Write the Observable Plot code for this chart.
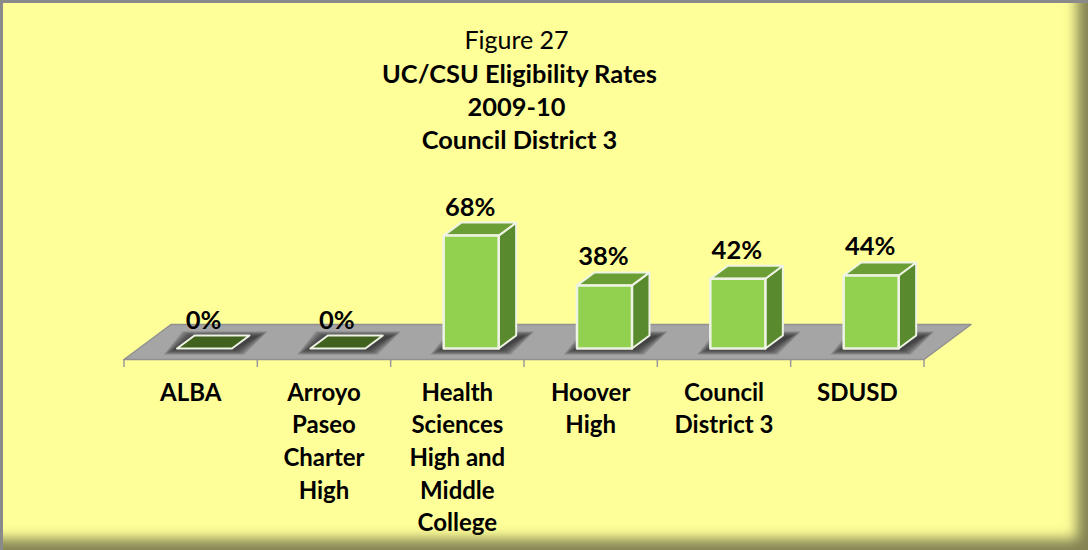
<!DOCTYPE html>
<html>
<head>
<meta charset="utf-8">
<script src="https://cdn.jsdelivr.net/npm/d3@7"></script>
<script src="https://cdn.jsdelivr.net/npm/@observablehq/plot@0.6"></script>
<style>
html,body{margin:0;padding:0;background:#fff}
#frame{position:relative;width:1088px;height:550px;box-sizing:border-box;overflow:hidden;background:#FFFF99;font-family:Lato,sans-serif;color:#000}
#frame:before{content:"";position:absolute;inset:0;border-top:3px solid #8a8a8a;border-left:3px solid #8a8a8a;box-shadow:inset -15px -15px 13px -4px rgba(90,90,60,.75);z-index:3;pointer-events:none}
#title{height:160px;box-sizing:border-box;padding-top:21px;margin-left:-49px;text-align:center;font-size:25px}
#title div{height:33px;line-height:33px;position:relative}
#title .b{font-weight:700;font-size:25.4px}
#title .n{height:36px;line-height:36px;left:-3px}
#title .y{left:-3px}
#chart svg{display:block}
</style>
</head>
<body>
<div id="frame">
<div id="title"></div>
<div id="chart"></div>
</div>
<script>
const categories = ["ALBA","Arroyo\nPaseo\nCharter\nHigh","Health\nSciences\nHigh and\nMiddle\nCollege","Hoover\nHigh","Council\nDistrict 3","SDUSD"];
const rates = [0,0,68,38,42,44];
const titleLines = ["Figure 27","UC/CSU Eligibility Rates","2009-10","Council District 3"];

const titleEl = document.getElementById("title");
titleLines.forEach((t,i)=>{const d=document.createElement("div");d.textContent=t;d.className=i===0?"n":i===2?"b y":"b";titleEl.appendChild(d);});

// Pixel geometry expressed in data units
const stepPx = 133.33, pctPx = 1.66;
const ux = p => p/stepPx, uy = p => p/pctPx;
const barLeft = ux(53), barW = ux(55), depthX = ux(17.5), depthY = uy(13);
const floorFront = uy(-11), floorBack = uy(24), floorSkewX = ux(47);

const rows = categories.map((c,i)=>({c,i,v:rates[i],l:i+barLeft,r:i+barLeft+barW}));
const poly = (id,pts)=>[...pts,pts[0]].map(([x,y])=>({id,x,y}));
const frontFaces = rows.filter(d=>d.v>0).flatMap(d=>poly(d.i,[[d.l,0],[d.r,0],[d.r,d.v],[d.l,d.v]]));
const sideFaces = rows.filter(d=>d.v>0).flatMap(d=>poly(d.i,[[d.r,0],[d.r+depthX,depthY],[d.r+depthX,d.v+depthY],[d.r,d.v]]));
const topFaces = rows.map(d=>poly(d.i,[[d.l,d.v],[d.r,d.v],[d.r+depthX,d.v+depthY],[d.l+depthX,d.v+depthY]]));
const floorFace = poly("f",[[0,floorFront],[6,floorFront],[6+floorSkewX,floorBack],[floorSkewX,floorBack]]);
const shadowAt = k => rows.flatMap(d=>poly(d.i,[[d.l-ux(k+3),uy(-k/2-1)],[d.r+ux(k+2),uy(-k/2-1)],[d.r+depthX+ux(k+8),depthY+uy(k/2-1)],[d.l+depthX-ux(k+2),depthY+uy(k/2-1)]]));
const shadowLayers = [10,8,6,4,2,0].map(shadowAt);

const edge = "#eef3e4";
const soft = "blur(0.4px)";
const chart = Plot.plot({
  width:1088, height:390, margin:0,
  x:{type:"linear",domain:[0,6],range:[123.5,923.5],axis:null},
  y:{type:"linear",domain:[0,100],range:[188,188-166],axis:null},
  style:{background:"transparent",overflow:"visible"},
  marks:[
    Plot.ruleX(d3.range(7),{x:d=>d,y1:floorFront,y2:floorFront-uy(8),stroke:"#9a9a9a",strokeWidth:1.5}),
    Plot.line(floorFace,{x:"x",y:"y",z:"id",fill:"#a5a5a5",stroke:"#909090",strokeWidth:1.5}),
    ...shadowLayers.map(s=>Plot.line(s,{x:"x",y:"y",z:"id",fill:"#2f2f2f",fillOpacity:.24,strokeOpacity:0})),
    Plot.line(sideFaces,{x:"x",y:"y",z:"id",fill:"#5a8a2e",stroke:edge,strokeWidth:2,imageFilter:soft}),
    ...topFaces.map((t,i)=>Plot.line(t,{x:"x",y:"y",fill:rates[i]===0?"#41611f":"#6b9e35",stroke:edge,strokeWidth:2,imageFilter:soft})),
    Plot.line(frontFaces,{x:"x",y:"y",z:"id",fill:"#92d050",stroke:edge,strokeWidth:2.5,imageFilter:soft}),
    Plot.text(rows,{x:d=>d.l+barW/2-ux(1),y:"v",text:d=>`${d.v}%`,dy:-20,lineAnchor:"bottom",fontFamily:"Lato",fontWeight:700,fontSize:25.5,fill:"#000"}),
    Plot.text(rows,{x:d=>d.i+0.5,y:floorFront,text:"c",dy:18,lineAnchor:"top",lineHeight:1.36,fontFamily:"Lato",fontWeight:700,fontSize:24,fill:"#000"})
  ]
});
document.getElementById("chart").appendChild(chart);
</script>
</body>
</html>
